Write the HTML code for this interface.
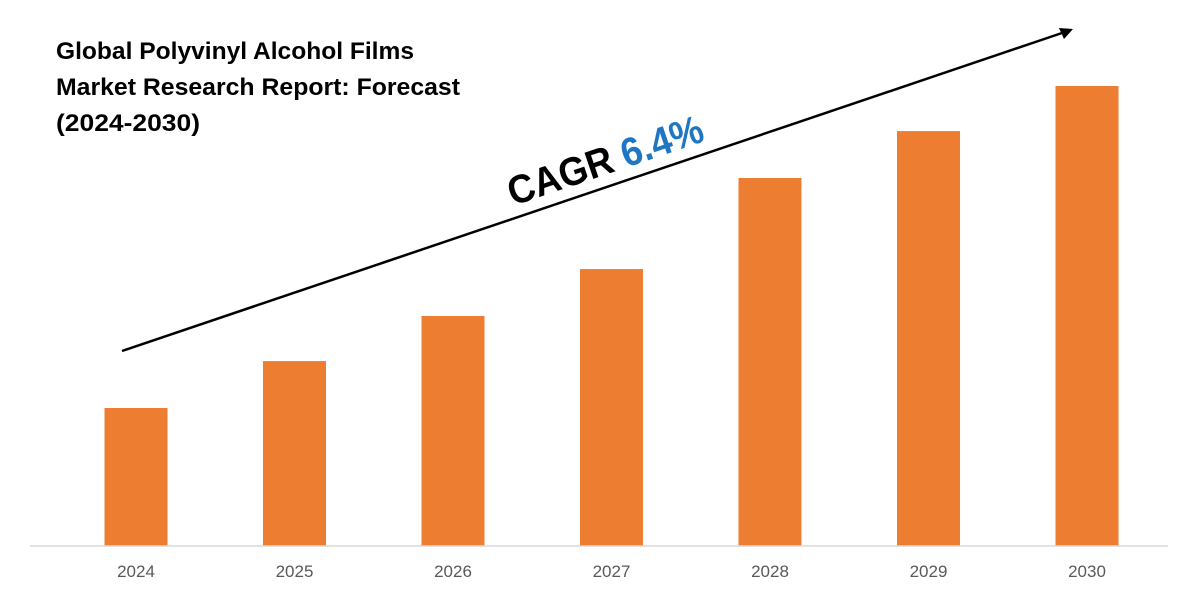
<!DOCTYPE html>
<html><head><meta charset="utf-8"><style>
html,body{margin:0;padding:0;background:#fff;}
svg{display:block;font-family:"Liberation Sans",sans-serif;}
</style></head><body>
<svg width="1200" height="600" viewBox="0 0 1200 600">
<g font-weight="bold" font-size="24" fill="#000">
<text x="56" y="59" textLength="358" lengthAdjust="spacingAndGlyphs">Global Polyvinyl Alcohol Films</text>
<text x="56" y="95" textLength="404" lengthAdjust="spacingAndGlyphs">Market Research Report: Forecast</text>
<text x="56" y="131" textLength="144" lengthAdjust="spacingAndGlyphs">(2024-2030)</text>
</g>
<g id="bars"></g>
<line x1="30" y1="546" x2="1168" y2="546" stroke="#d9d9d9" stroke-width="1.5"/>
<g id="labels" font-size="17" fill="#595959" text-anchor="middle"></g>
<g>
<line x1="122" y1="351" x2="1062" y2="33" stroke="#000" stroke-width="2.5"/>
<polygon points="1073,29 1059,28 1064,39" fill="#000"/>
</g>
<text transform="translate(513,206) rotate(-18.7)" font-size="40" font-weight="bold" textLength="204" lengthAdjust="spacingAndGlyphs"><tspan fill="#000">CAGR </tspan><tspan fill="#1f77c4">6.4%</tspan></text>
</svg>
<script>
const categories = ["2024","2025","2026","2027","2028","2029","2030"];
const values = [30, 40.2, 50, 60.2, 80, 90.2, 100];
const baseY = 546, plotH = 460, maxV = 100;
const x0 = 56, step = 158.5, barW = 63;
function yScale(v){ return baseY - v / maxV * plotH; }
function xCenter(i){ return x0 + step * i + 80; }
const ns = "http://www.w3.org/2000/svg";
const bars = document.getElementById('bars');
const labels = document.getElementById('labels');
categories.forEach((c, i) => {
  const r = document.createElementNS(ns, 'rect');
  r.setAttribute('x', xCenter(i) - barW / 2);
  r.setAttribute('y', yScale(values[i]));
  r.setAttribute('width', barW);
  r.setAttribute('height', baseY - yScale(values[i]));
  r.setAttribute('fill', '#ed7d31');
  
  
  bars.appendChild(r);
  const t = document.createElementNS(ns, 'text');
  t.setAttribute('x', xCenter(i));
  t.setAttribute('y', 577);
  t.textContent = c;
  
  
  labels.appendChild(t);
});
</script>
</body></html>
